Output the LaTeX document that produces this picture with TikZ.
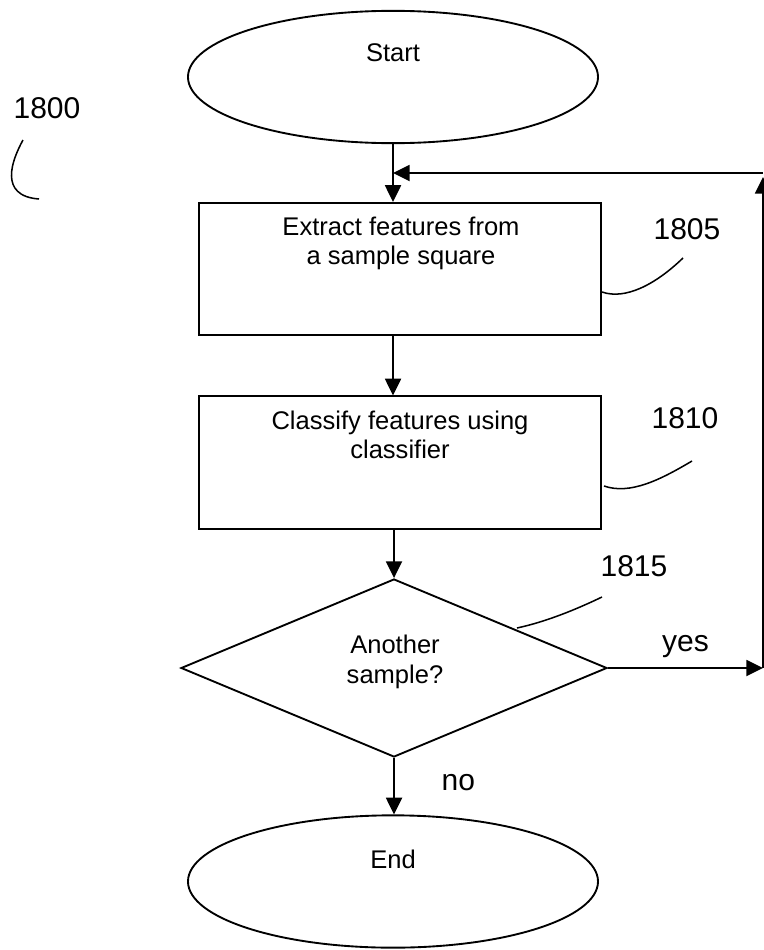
\documentclass[tikz,border=0pt]{standalone}
\usepackage{fontspec}
\setmainfont{Liberation Sans}
\usetikzlibrary{shapes.geometric,arrows.meta}
\begin{document}
\begin{tikzpicture}[x=0.03cm, y=-0.03cm, line width=1.6pt,
    >={Triangle[length=0.5cm,width=0.48cm]},
    box/.style={draw, rectangle, minimum width=12.06cm, minimum height=3.97cm, inner sep=0pt},
    term/.style={draw, ellipse, minimum width=12.3cm, minimum height=3.97cm, inner sep=0pt},
    test/.style={draw, diamond, minimum width=12.78cm, minimum height=5.34cm, inner sep=0pt},
    txt/.style={font=\fontsize{21.8}{25.2}\selectfont, align=center, inner sep=0pt},
    num/.style={font=\fontsize{25.6}{30}\selectfont, inner sep=0pt},
    lead/.style={line width=1.3pt}]
    \useasboundingbox (0,0) rectangle (764,950);
    \node[term] (st) at (393,77) {};
    \node[txt] (stt) at (393,53) {Start};
    \node[box] (ex) at (400,269) {};
    \node[txt] (ext) at (401,243.5) {Extract features from\\a sample square};
    \node[box] (cl) at (400,462.5) {};
    \node[txt] (clt) at (400,435) {Classify features using\\classifier};
    \node[test] (an) at (394,668) {};
    \node[txt] (ant) at (395,662) {Another\\sample?};
    \node[term] (en) at (393,881.5) {};
    \node[txt] (ent) at (393,859) {End};
    \coordinate (r) at (763,668);
    \coordinate (q) at (763,177);
    \coordinate (p) at (763,173);
    \draw[->] (st.south) -- (st.south |- ex.north);
    \draw[->] (st.south |- ex.south) -- (st.south |- cl.north);
    \draw[->] (an.north |- cl.south) -- (an.north);
    \draw[->] (an.south) -- (an.south |- en.north)  node[num,pos=.44,right=1.4cm] {no};
    \draw[->] (an.east) -- (r)  node[num,pos=.5,above=0.27cm] {yes};
    \draw[->] (r) -- (q);
    \draw[->] (p) -- (p -| st);
    % reference numbers
    \node[num] (n1800) at (47,108) {1800};
    \node[num] (n1805) at (687,229) {1805};
    \node[num] (n1810) at (685,418) {1810};
    \node[num] (n1815) at (634,566) {1815};
    \draw[lead] (23,140) .. controls (12,160) and (-2,196) .. (39,199);
    \draw[lead] (602,292) .. controls (625,300) and (655,285) .. (683,258);
    \draw[lead] (604,486) .. controls (630,495) and (660,480) .. (692,461);
    \draw[lead] (517,628) .. controls (545,622) and (575,610) .. (602,597);
  \end{tikzpicture}
\end{document}
